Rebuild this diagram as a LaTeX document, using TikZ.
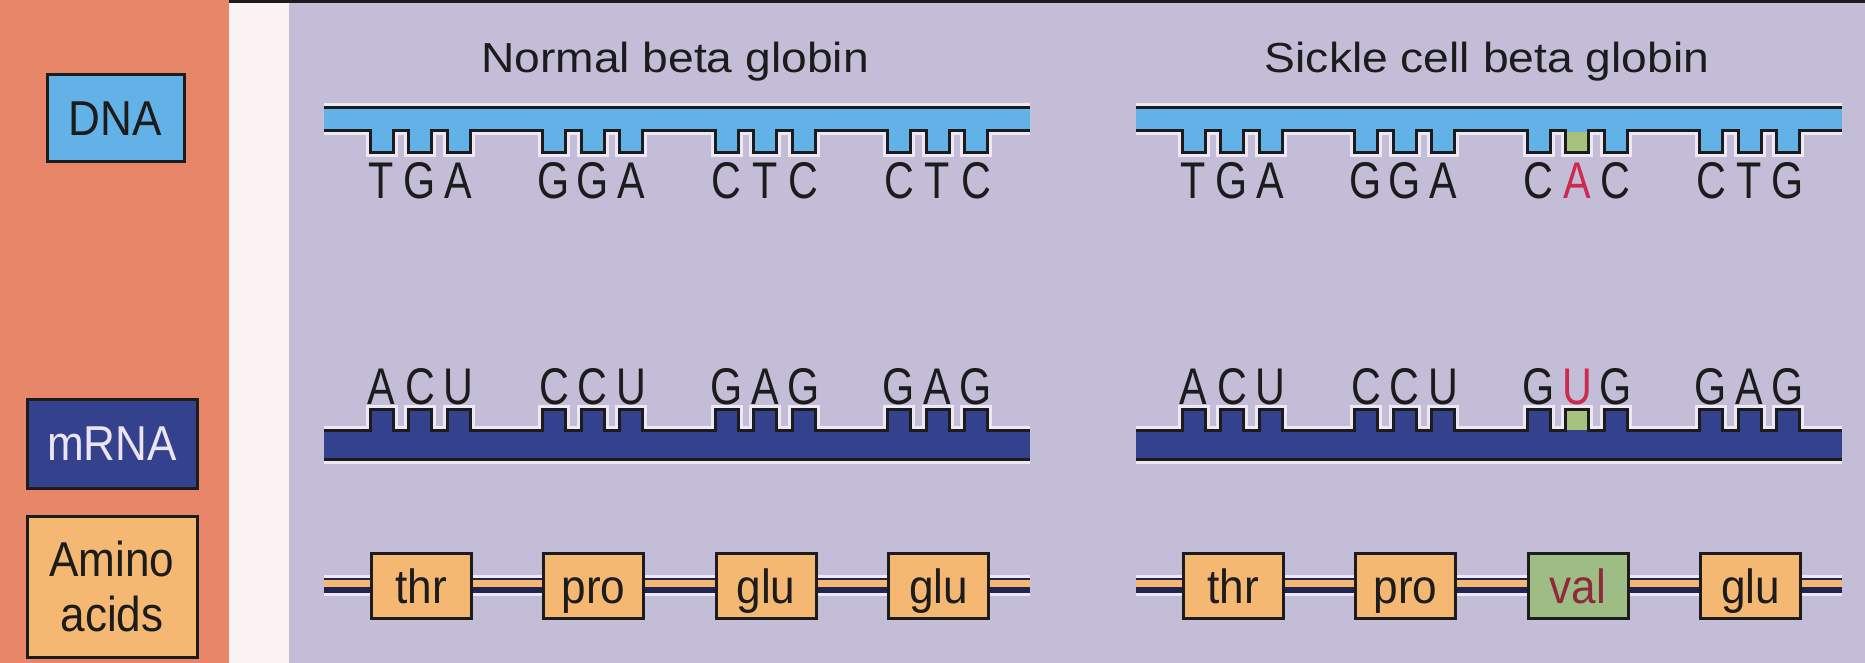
\documentclass[tikz,border=0pt]{standalone}
\usepackage{fontspec}
\setmainfont{Liberation Sans}
\newfontfamily\condfont[FakeStretch=0.8]{Liberation Sans}
\newfontfamily\widefont[FakeStretch=1.1]{Liberation Sans}
\newfontfamily\aafont[FakeStretch=0.92]{Liberation Sans}
\newfontfamily\keyfont[FakeStretch=0.9]{Liberation Sans}
\definecolor{panelor}{HTML}{E8866A}
\definecolor{lav}{HTML}{C4BDD7}
\definecolor{strip}{HTML}{FBF3F2}
\definecolor{dnab}{HTML}{62B2E8}
\definecolor{rnab}{HTML}{34418C}
\definecolor{aaor}{HTML}{F4B872}
\definecolor{valg}{HTML}{9DBD84}
\definecolor{mutg}{HTML}{A6C27C}
\definecolor{sred}{HTML}{CC2A4E}
\definecolor{valred}{HTML}{8E2A3C}
\definecolor{halo}{HTML}{EEE8F4}
\definecolor{ink}{HTML}{1C1C1C}
\definecolor{mrnatext}{HTML}{ECE4F2}
\definecolor{chaindark}{HTML}{1E2550}
\tikzset{
  outl/.style={draw=ink, line width=1.5pt},
  halostroke/.style={draw=halo, line width=4.5pt},
  codon/.style={inner sep=0pt, anchor=base, text=ink, font=\condfont\fontsize{25.8}{26}\selectfont},
  titletext/.style={inner sep=0pt, anchor=base, text=ink, font=\widefont\fontsize{21}{22}\selectfont},
  keybox/.style={draw=ink, line width=1.5pt, inner sep=0pt, text=ink, font=\keyfont\fontsize{24.5}{27.5}\selectfont},
  aabox/.style={draw=ink, line width=1.5pt, fill=aaor, inner sep=0pt, text=ink,
    minimum width=50pt, minimum height=32.5pt, text height=18pt, text depth=0pt,
    font=\aafont\fontsize{24}{24}\selectfont},
}
% DNA strand: backbone with teeth pointing down
\newcommand{\DNAshape}{%
  \draw[halostroke] (324,108) -- (1030,108);
  \draw[halostroke] (324,131) \foreach \k in {0,1,2,3}{\foreach \j in {0,1,2}{ -- ({370+172.5*\k+38.5*\j},131) -- ++(0,22) -- ++(23,0) -- ++(0,-22)}} -- (1030,131);
  \fill[dnab] (324,108) rectangle (1030,131.5);
  \foreach \k in {0,1,2,3}{\foreach \j in {0,1,2}{\fill[dnab] ({370+172.5*\k+38.5*\j},130) rectangle ++(23,23);}}
  \draw[outl] (324,108) -- (1030,108);
  \draw[outl] (324,131) \foreach \k in {0,1,2,3}{\foreach \j in {0,1,2}{ -- ({370+172.5*\k+38.5*\j},131) -- ++(0,22) -- ++(23,0) -- ++(0,-22)}} -- (1030,131);
}
% mRNA strand: backbone with teeth pointing up
\newcommand{\RNAshape}{%
  \draw[halostroke] (324,459) -- (1030,459);
  \draw[halostroke] (324,431) \foreach \k in {0,1,2,3}{\foreach \j in {0,1,2}{ -- ({370+172.5*\k+38.5*\j},431) -- ++(0,-21) -- ++(23,0) -- ++(0,21)}} -- (1030,431);
  \fill[rnab] (324,430.5) rectangle (1030,459);
  \foreach \k in {0,1,2,3}{\foreach \j in {0,1,2}{\fill[rnab] ({370+172.5*\k+38.5*\j},410) rectangle ++(23,22);}}
  \draw[outl] (324,459) -- (1030,459);
  \draw[outl] (324,431) \foreach \k in {0,1,2,3}{\foreach \j in {0,1,2}{ -- ({370+172.5*\k+38.5*\j},431) -- ++(0,-21) -- ++(23,0) -- ++(0,21)}} -- (1030,431);
}
\begin{document}
\begin{tikzpicture}[x=0.5pt,y=-0.5pt]
\useasboundingbox (0,0) rectangle (1865,663);
% backgrounds
\fill[panelor] (0,0) rectangle (229,663);
\fill[strip] (229,0) rectangle (289,663);
\fill[lav] (289,0) rectangle (1865,663);
\fill[ink] (229,0) rectangle (1865,3);

% key boxes
\node[keybox, fill=dnab, minimum width=68.5pt, minimum height=43.5pt] (dnakey) at (115.5,118.5) {DNA};
\node[keybox, fill=rnab, text=mrnatext, minimum width=85pt, minimum height=44pt] (mrnakey) at (112,444) {mRNA};
\node[keybox, fill=aaor, align=center, minimum width=85pt, minimum height=70.5pt] (aakey) at (112,586.5) {Amino\\acids};

% titles
\node[titletext] (titlenormal) at (675,73) {Normal beta globin};
\node[titletext] (titlesickle) at (1487,73) {Sickle cell beta globin};

% ---------- normal ----------
\DNAshape
\RNAshape
\foreach \k/\a/\b/\c in {0/T/G/A, 1/G/G/A, 2/C/T/C, 3/C/T/C}{
  \node[codon] (nd-\k-0) at ({381.5+172.5*\k},199) {\a};
  \node[codon] (nd-\k-1) at ({420+172.5*\k},199) {\b};
  \node[codon] (nd-\k-2) at ({458.5+172.5*\k},199) {\c};
}
\foreach \k/\a/\b/\c in {0/A/C/U, 1/C/C/U, 2/G/A/G, 3/G/A/G}{
  \node[codon] (nr-\k-0) at ({381.5+172.5*\k},405) {\a};
  \node[codon] (nr-\k-1) at ({420+172.5*\k},405) {\b};
  \node[codon] (nr-\k-2) at ({458.5+172.5*\k},405) {\c};
}
\coordinate (nchainstart) at (324,585.5);
\coordinate (nchainend) at (1030,585.5);
\draw[halo, line width=10.5pt] (nchainstart) -- (nchainend);
\draw[chaindark, line width=7.5pt] (nchainstart) -- (nchainend);
\draw[aaor, line width=3.5pt] ([yshift=1pt]nchainstart) -- ([yshift=1pt]nchainend);
\foreach \k/\w in {0/thr, 1/pro, 2/glu, 3/glu}{
  \node[aabox] (na-\k) at ({421+172.5*\k},585.5) {\w};
}

% ---------- sickle ----------
\begin{scope}[xshift=406pt]
\DNAshape
\RNAshape
\fill[mutg] (755,132.5) rectangle (775,151.5);
\fill[mutg] (755,411.5) rectangle (775,430);
\foreach \k/\a/\b/\c in {0/T/G/A, 1/G/G/A, 2/C/\textcolor{sred}{A}/C, 3/C/T/G}{
  \node[codon] (sd-\k-0) at ({381.5+172.5*\k},199) {\a};
  \node[codon] (sd-\k-1) at ({420+172.5*\k},199) {\b};
  \node[codon] (sd-\k-2) at ({458.5+172.5*\k},199) {\c};
}
\foreach \k/\a/\b/\c in {0/A/C/U, 1/C/C/U, 2/G/\textcolor{sred}{U}/G, 3/G/A/G}{
  \node[codon] (sr-\k-0) at ({381.5+172.5*\k},405) {\a};
  \node[codon] (sr-\k-1) at ({420+172.5*\k},405) {\b};
  \node[codon] (sr-\k-2) at ({458.5+172.5*\k},405) {\c};
}
\coordinate (schainstart) at (324,585.5);
\coordinate (schainend) at (1030,585.5);
\draw[halo, line width=10.5pt] (schainstart) -- (schainend);
\draw[chaindark, line width=7.5pt] (schainstart) -- (schainend);
\draw[aaor, line width=3.5pt] ([yshift=1pt]schainstart) -- ([yshift=1pt]schainend);
\node[aabox] (sa-0) at (421,585.5) {thr};
\node[aabox] (sa-1) at (593.5,585.5) {pro};
\node[aabox, fill=valg, text=valred] (sa-2) at (766,585.5) {val};
\node[aabox] (sa-3) at (938.5,585.5) {glu};
\end{scope}
\end{tikzpicture}
\end{document}
